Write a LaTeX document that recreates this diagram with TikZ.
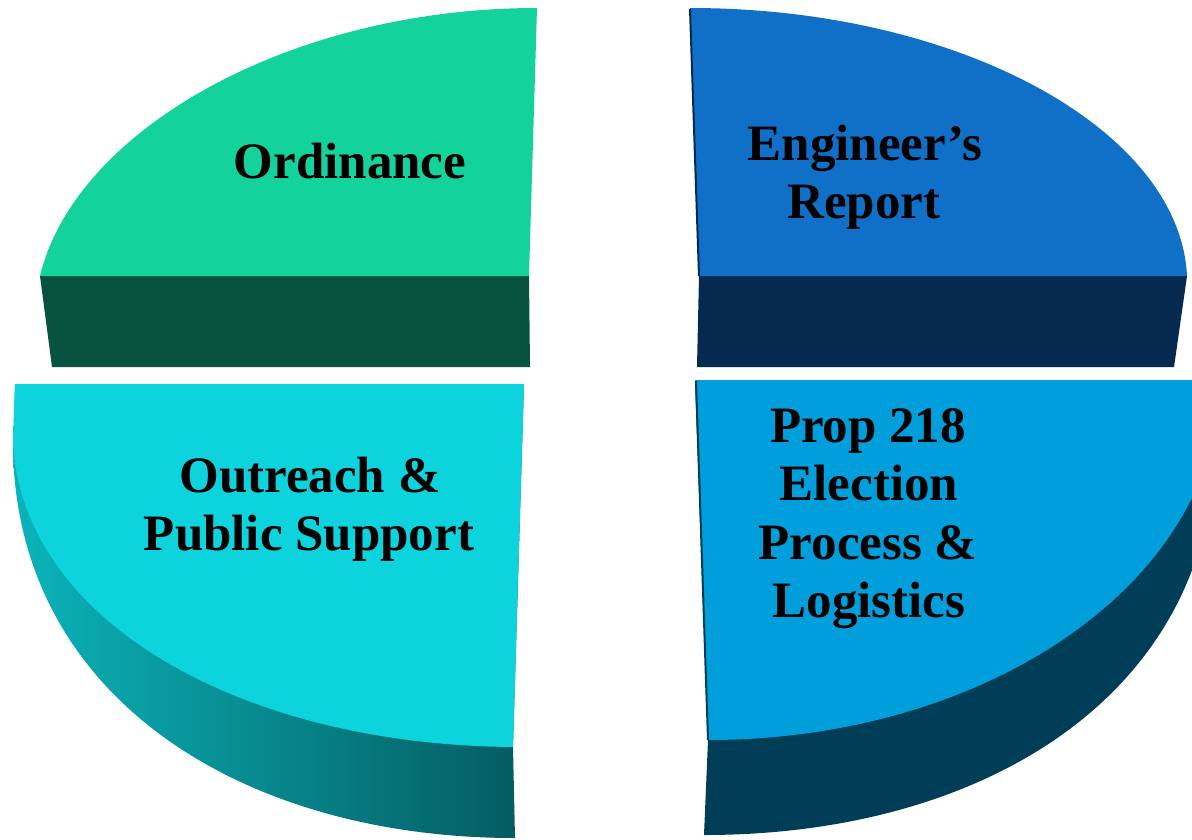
\documentclass[tikz,border=0pt]{standalone}
\usepackage{fontspec}
\setmainfont{Liberation Serif}
\definecolor{ordtop}{HTML}{14D29B}
\definecolor{ordside}{HTML}{07533F}
\definecolor{engtop}{HTML}{1070C7}
\definecolor{engside}{HTML}{062A4F}
\definecolor{outtop}{HTML}{0DD3DC}
\definecolor{outsideL}{HTML}{0AB4BA}
\definecolor{outsideR}{HTML}{045B60}
\definecolor{proptop}{HTML}{009FDB}
\definecolor{propside}{HTML}{003D57}
\begin{document}
\begin{tikzpicture}[x=1pt,y=-1pt,
  lbl/.style={font=\bfseries\fontsize{51}{58}\selectfont, text=black, inner sep=0pt, anchor=base}]
\useasboundingbox (0,0) rectangle (1192,839);
\fill[white] (0,0) rectangle (1192,839);
\clip (0,0) rectangle (1192,839);

% Ordinance (top left)
\fill[ordside] (40,276) -- (529,276) -- (530,367) -- (52,367) -- cycle;
\fill[ordtop] (40,276) .. controls (75,130) and (290,8) .. (537,8) -- (529,276) -- cycle;

% Engineer's Report (top right)
\fill[engside] (699,276) -- (1187,276) -- (1174,367) -- (697,367) -- cycle;
\fill[engtop] (690,8) .. controls (960,8) and (1180,130) .. (1187,276) -- (699,276) -- cycle;
\draw[engside, line width=2] (690,9) -- (699,276);

% Outreach & Public Support (bottom left)
\shade[left color=outsideL, right color=outsideR]
  (15,384) -- (13,450) .. controls (18,700) and (245,838) .. (515,838)
  -- (513,747) -- (524,384) -- cycle;
\fill[outtop] (15,384) -- (524,384) -- (513,747)
  .. controls (240,745) and (20,620) .. (13,440) -- cycle;

% Prop 218 (bottom right)
\fill[propside] (695,380) -- (1230,380) -- (1215,440)
  .. controls (1215,690) and (990,835) .. (704,835) -- (708,740) -- cycle;
\fill[proptop] (695,380) -- (1220,380)
  .. controls (1220,579) and (991,740) .. (708,740) -- cycle;
\draw[propside, line width=2] (696,381) -- (708,740);

% Labels
\node[lbl] (ord) at (350,178) {Ordinance};
\node[lbl] (eng1) at (865,160) {Engineer’s};
\node[lbl] (eng2) at (864,218) {Report};
\node[lbl] (out1) at (310,492) {Outreach \&};
\node[lbl] (out2) at (309,550) {Public Support};
\node[lbl] (prop1) at (868,442) {Prop 218};
\node[lbl] (prop2) at (869,500) {Election};
\node[lbl] (prop3) at (868,559) {Process \&};
\node[lbl] (prop4) at (869,617) {Logistics};
\end{tikzpicture}
\end{document}
